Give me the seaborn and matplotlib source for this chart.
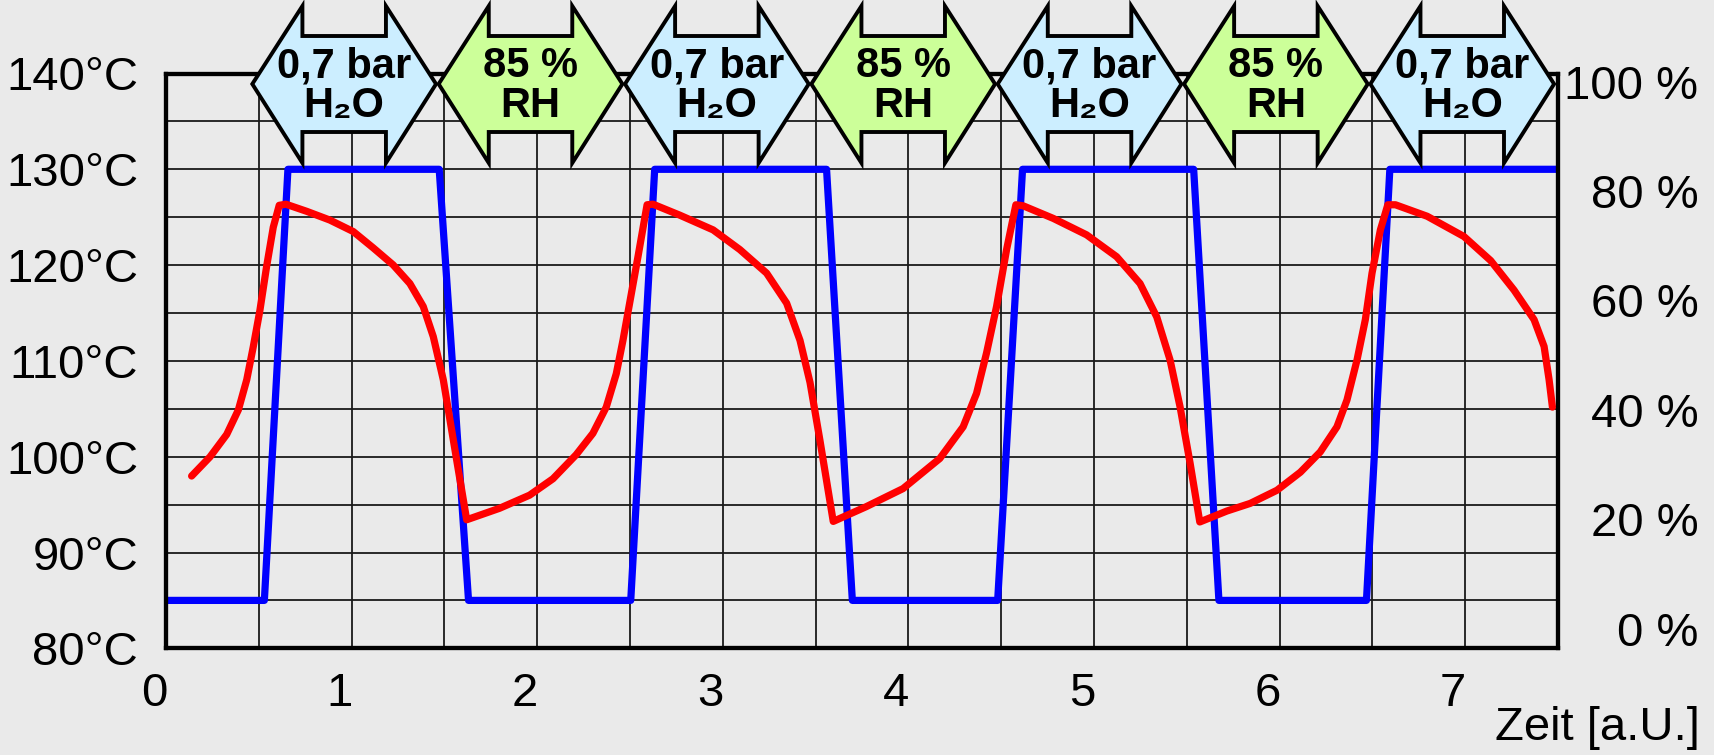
import pandas as pd
import seaborn as sns
import matplotlib.pyplot as plt
from matplotlib.patches import Polygon
from matplotlib import transforms

# blue: temperature (left axis)
temp_time = [0.0, 0.53, 0.657, 1.472, 1.63, 2.504, 2.633, 3.559, 3.698,
             4.481, 4.615, 5.537, 5.673, 6.468, 6.594, 7.5]
temp_c = [85, 85, 130, 130, 85, 85, 130, 130, 85,
          85, 130, 130, 85, 85, 130, 130]

# red: relative humidity (right axis)
rh_time = [0.138, 0.237, 0.327, 0.39, 0.435, 0.47, 0.506, 0.542, 0.578, 0.61, 0.646,
           0.758, 0.883, 1.009, 1.117, 1.224, 1.314, 1.386, 1.44, 1.494, 1.548, 1.62,
           1.797, 1.959, 2.085, 2.21, 2.30, 2.372, 2.426, 2.462, 2.498, 2.543, 2.592, 2.624,
           2.768, 2.948, 3.092, 3.236, 3.344, 3.416, 3.47, 3.523, 3.595,
           3.773, 3.971, 4.169, 4.295, 4.367, 4.421, 4.475, 4.529, 4.579, 4.619,
           4.781, 4.96, 5.122, 5.248, 5.338, 5.41, 5.464, 5.518, 5.570,
           5.716, 5.842, 5.986, 6.112, 6.219, 6.309, 6.363, 6.417, 6.462, 6.498, 6.543, 6.583, 6.624,
           6.795, 6.993, 7.137, 7.263, 7.371, 7.425, 7.452, 7.47]
rh_pct = [27.9, 31.4, 35.5, 40.0, 45.5, 51.5, 58.2, 66.2, 73.4, 77.4, 77.6,
          76.3, 74.7, 72.6, 69.6, 66.5, 63.1, 58.9, 53.4, 45.5, 34.5, 19.9,
          22.0, 24.4, 27.4, 31.8, 35.7, 40.5, 46.6, 52.7, 59.5, 68.0, 77.5, 77.6,
          75.6, 72.9, 69.3, 65.0, 59.5, 52.7, 45.0, 34.5, 19.6,
          22.3, 25.6, 31.1, 36.9, 43.0, 50.4, 58.9, 69.3, 77.5, 77.3,
          75.0, 72.0, 68.0, 63.1, 57.0, 49.1, 40.5, 30.2, 19.5,
          21.5, 22.9, 25.3, 28.6, 32.3, 36.9, 41.8, 49.1, 56.5, 65.0, 72.9, 77.5, 77.5,
          75.4, 71.7, 67.3, 61.9, 56.5, 51.6, 45.5, 40.5]

phase_top = ["0,7 bar", "85 %", "0,7 bar", "85 %", "0,7 bar", "85 %", "0,7 bar"]
phase_bottom = ["H₂O", "RH", "H₂O", "RH", "H₂O", "RH", "H₂O"]

temp_ticks = [80, 90, 100, 110, 120, 130, 140]
rh_ticks = [0, 20, 40, 60, 80, 100]
time_ticks = [0, 1, 2, 3, 4, 5, 6, 7]

phase_colors = {"RH": "#ccff99", "H₂O": "#cceeff"}

sns.set_theme(style="white", rc={"text.color": "black", "xtick.color": "black",
                                 "ytick.color": "black"})
plt.rcParams["font.family"] = ["Liberation Sans", "DejaVu Sans"]

W, H = 1714, 755
fig = plt.figure(figsize=(W / 100, H / 100), dpi=100, facecolor="#eaeaea")
ax = fig.add_axes([166 / W, 1 - 648.3 / H, (1558 - 166) / W, (648.3 - 73.5) / H])
ax.set_facecolor("#eaeaea")

df_t = pd.DataFrame({"Zeit": temp_time, "T": temp_c})
df_rh = pd.DataFrame({"Zeit": rh_time, "RH": rh_pct})

sns.lineplot(data=df_t, x="Zeit", y="T", estimator=None, sort=False,
             color="#0000ff", lw=5.2, ax=ax)

ax.set_xlim(0, 7.5)
ax.set_ylim(80, 140)
ax.set_xticks(time_ticks)
ax.set_xticks([i * 0.5 for i in range(16)], minor=True)
ax.set_yticks(temp_ticks)
ax.set_yticks(list(range(80, 141, 5)), minor=True)
ax.set_yticklabels([f"{t}°C" for t in temp_ticks])
ax.grid(True, which="both", color="#1a1a1a", lw=1.3)
ax.set_axisbelow(True)
ax.tick_params(which="both", length=0)
ax.tick_params(axis="y", labelsize=34, pad=20)
ax.tick_params(axis="x", labelsize=34, pad=17)
ax.set_xlabel("")
ax.set_ylabel("")
for s in ax.spines.values():
    s.set_color("black")
    s.set_linewidth(3)

shift = transforms.ScaledTranslation(-12 / 100, 0, fig.dpi_scale_trans)
for lab in ax.get_xticklabels():
    lab.set_transform(lab.get_transform() + shift)

ax2 = ax.twinx()
sns.lineplot(data=df_rh, x="Zeit", y="RH", estimator=None, sort=False,
             color="#ff0000", lw=5.2, ax=ax2)
ax2.set_ylim(-3.6, 101.5)
ax2.set_yticks(rh_ticks)
ax2.set_yticklabels([f"{v} %" for v in rh_ticks])
ax2.grid(False)
ax2.set_ylabel("")
ax2.tick_params(length=0, labelsize=34, pad=101)
for lab in ax2.get_yticklabels():
    lab.set_horizontalalignment("right")
for s in ax2.spines.values():
    s.set_color("black")
    s.set_linewidth(3)

fig.text(1700 / W, 1 - 728 / H, "Zeit [a.U.]", ha="right", va="center", fontsize=34)

# phase arrows above the plot
trans = transforms.blended_transform_factory(ax2.transData, fig.transFigure)
fy = lambda px: 1 - px / H
hw, hl = 0.495, 0.27
for i, (top, bottom) in enumerate(zip(phase_top, phase_bottom)):
    c = 0.96 + i * 1.004
    xs = [c - hw, c - hw + hl, c - hw + hl, c + hw - hl, c + hw - hl,
          c + hw, c + hw - hl, c + hw - hl, c - hw + hl, c - hw + hl]
    ys = [84, 6, 36, 36, 6, 84, 163, 132, 132, 163]
    poly = Polygon(list(zip(xs, [fy(y) for y in ys])), closed=True,
                   facecolor=phase_colors[bottom], edgecolor="black", lw=2.8,
                   joinstyle="miter", transform=trans, clip_on=False, zorder=10)
    ax2.add_patch(poly)
    ax2.text(c, fy(77), top, ha="center", va="baseline", fontsize=30,
             fontweight="bold", transform=trans, zorder=11, clip_on=False)
    ax2.text(c, fy(117), bottom, ha="center", va="baseline", fontsize=30,
             fontweight="bold", transform=trans, zorder=11, clip_on=False)

fig.savefig("out.png", dpi=100, facecolor="#eaeaea")
